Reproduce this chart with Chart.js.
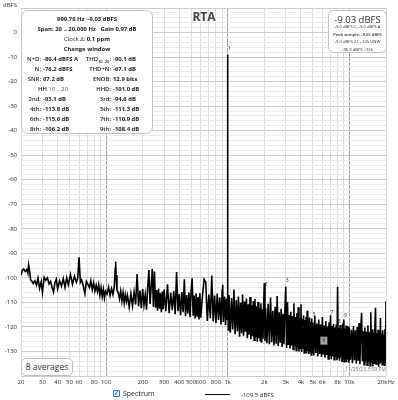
<!DOCTYPE html>
<html><head><meta charset="utf-8">
<script src="https://cdn.jsdelivr.net/npm/chart.js@4.4.1/dist/chart.umd.min.js"></script>
<style>
html,body{margin:0;padding:0;background:#fff;}
#wrap{position:relative;width:398px;height:400px;overflow:hidden;font-family:"Open Sans","Noto Sans",sans-serif;color:#222;}
#c{position:absolute;left:0;top:0;}
.abs{position:absolute;white-space:nowrap;}
#stats{left:21px;top:10px;width:132px;height:124px;border:1px solid #c4c4c4;border-radius:7px;background:#fff;box-sizing:border-box;}
.row{position:absolute;left:0;width:100%;height:10px;line-height:10px;font-size:5.9px;font-weight:700;white-space:nowrap;color:#1a1a1a;}
.c{text-align:center;}
.ll{position:absolute;left:0;width:19px;text-align:right;font-weight:600;}
.lv{position:absolute;left:21px;}
.rl{position:absolute;left:40px;width:49px;text-align:right;font-weight:600;}
.rv{position:absolute;left:91px;}
#peak{left:328px;top:10px;width:59px;height:43px;border:1px solid #c4c4c4;border-radius:6px;background:#fff;box-sizing:border-box;}
.pr{position:absolute;left:0;width:100%;text-align:center;white-space:nowrap;color:#333;}
#avg{left:21px;top:358px;width:52px;height:18px;border:1px solid #bdbdbd;border-radius:5px;background:#fff;box-sizing:border-box;font-size:8.5px;line-height:16px;text-align:center;color:#333;}
</style></head>
<body>
<div id="wrap">
<canvas id="c" width="398" height="400"></canvas>
<div class="abs" style="left:3px;top:1px;font-size:6px;line-height:8px;color:#333;">dBFS</div>
<div class="abs" style="left:174px;width:60px;top:9px;font-size:12px;line-height:16px;font-weight:700;color:#454545;text-align:center;">RTA</div>
<div id="stats" class="abs">
  <div class="row c" style="top:2.7px;">999.76 Hz&nbsp; -9.03 dBFS</div>
  <div class="row c" style="top:13px;">Span: 20 .. 20,000 Hz&nbsp;&nbsp; Gain 0.97 dB</div>
  <div class="row c" style="top:23px;"><span style="font-weight:400">Clock Δ:</span> 0.1 ppm</div>
  <div class="row c" style="top:33px;">Change window</div>
  <div class="row" style="top:43px;"><span class="ll">N+D:</span><span class="lv">-80.4 dBFS A</span><span class="rl">THD<sub style="font-size:4px;line-height:0">10..20</sub>:</span><span class="rv">-90.1 dB</span></div>
  <div class="row" style="top:53px;"><span class="ll">N:</span><span class="lv">-76.2 dBFS</span><span class="rl">THD+N:</span><span class="rv">-67.1 dB</span></div>
  <div class="row" style="top:63px;"><span class="ll">SNR:</span><span class="lv">67.2 dB</span><span class="rl">ENOB:</span><span class="rv">12.9 bits</span></div>
  <div class="row" style="top:73px;"><span style="position:absolute;left:0;width:62px;text-align:center;font-weight:600;">HH <span style="font-weight:400;color:#555">10 .. 20</span></span><span class="rl">HHD:</span><span class="rv">-101.0 dB</span></div>
  <div class="row" style="top:83px;"><span class="ll">2nd:</span><span class="lv">-93.1 dB</span><span class="rl">3rd:</span><span class="rv">-94.6 dB</span></div>
  <div class="row" style="top:93px;"><span class="ll">4th:</span><span class="lv">-113.8 dB</span><span class="rl">5th:</span><span class="rv">-111.3 dB</span></div>
  <div class="row" style="top:103px;"><span class="ll">6th:</span><span class="lv">-115.6 dB</span><span class="rl">7th:</span><span class="rv">-110.9 dB</span></div>
  <div class="row" style="top:113px;"><span class="ll">8th:</span><span class="lv">-106.2 dB</span><span class="rl">9th:</span><span class="rv">-108.4 dB</span></div>
</div>
<div id="peak" class="abs">
  <div class="pr" style="top:1.5px;font-size:9.5px;line-height:13px;">-9.03 dBFS</div>
  <div class="pr" style="top:13px;font-size:4.2px;line-height:6px;">-9.0 dBFS C, -9.0 dBFS A</div>
  <div class="pr" style="top:20.5px;font-size:4.2px;line-height:6px;font-weight:600;">Peak sample: -9.02 dBFS</div>
  <div class="pr" style="top:28px;font-size:4.2px;line-height:6px;">-9.0 dBFS 22 - 22k UNW</div>
  <div class="pr" style="top:35.5px;font-size:4.2px;line-height:6px;">-96.9 dBFS &gt;22k</div>
</div>
<div id="avg" class="abs">8 averages</div>
<div class="abs" style="right:12px;top:366px;font-size:5px;line-height:7px;color:#777;">11/25/23 3:09 PM</div>
<div class="abs" style="left:113px;top:390px;width:7px;height:7px;border:1px solid #2f72d8;border-radius:1px;box-sizing:border-box;background:#eaf2ff;font-size:6px;line-height:5px;color:#2f72d8;text-align:center;font-weight:700;">✓</div>
<div class="abs" style="left:123px;top:389px;font-size:7px;line-height:10px;color:#222;">Spectrum</div>
<div class="abs" style="left:205px;top:393.5px;width:25px;height:1.5px;background:#000;"></div>
<div class="abs" style="left:241px;top:390px;font-size:6px;line-height:10px;color:#222;">-109.5 dBFS</div>
</div>
<script>
// ---- Spectrum data (frequency in Hz, level in dBFS) ----
const freqA = [20,20.5,21,21.7,22.3,22.8,23.1,23.6,24,24.6,25.2,26,26.8,27.6,28.4,29.3,30,31,32,33,34,35,36,37,38,39,40,41.5,43,44.5,46,47.5,49,51,53,55,57,58.5,60,61.5,63,65,67,69,71,73,75,77,79,81,83,85,87,89,91,93,95,97,99,102,105,108,111,114,117,119,120,121,123,126,129,132,135,138,141,144,147,150];
const levelA = [-98.8,-97.0,-96.4,-97.4,-96.6,-98.2,-94.7,-97.5,-100.8,-101.4,
 -102.3,-101.2,-103.0,-100.1,-104.3,-101.6,-106.0,-99.8,-101.0,-100.0,
 -102.5,-101.4,-103.8,-105.8,-102.0,-100.6,-104.5,-101.2,-103.4,-100.3,
 -103.8,-100.0,-102.8,-98.6,-102.6,-99.3,-101.8,-100.2,-91.6,-101.8,
 -100.8,-103.2,-106.4,-101.4,-102.6,-104.0,-101.2,-104.8,-102.0,-105.4,
 -103.0,-105.6,-102.8,-107.0,-104.0,-107.6,-104.6,-108.2,-105.4,-106.6,
 -103.8,-107.2,-104.4,-106.8,-103.6,-96.0,-93.4,-98.8,-105.0,-106.2,
 -108.6,-105.4,-109.4,-106.0,-110.2,-106.8,-109.6,-107.2];

const freqB = [155,160,165,170,175,180,185,190,195,200,205,210,215,220,225,230,235,240,245,250,
 255,260,265,270,275,280,285,290,295,300,310,320,330,340,350,360,370,380,390,400,
 410,420,430,440,450,460,470,480,490,500,510,520,530,540,550,560,570,580,590,600,
 620,640,660,680,700,720,740,760,780,800,820,840,860,880,900,910,920,940,960,975,
 990,995,1000,1005,1015,1025];
const levelB = [-112.0,-106.4,-111.4,-105.8,-110.8,-98.4,-111.6,-105.2,-112.4,-104.6,
 -111.0,-106.8,-113.0,-104.0,-96.8,-110.6,-103.6,-96.4,-111.8,-97.4,
 -112.2,-105.0,-113.4,-104.4,-112.6,-106.2,-114.0,-105.6,-112.8,-104.8,
 -113.6,-102.6,-114.4,-106.0,-113.2,-105.4,-114.8,-97.6,-113.6,-106.6,
 -115.2,-105.8,-114.0,-100.6,-115.6,-107.0,-114.6,-106.0,-116.0,-105.4,
 -100.2,-115.4,-107.2,-116.6,-106.4,-115.8,-107.8,-117.0,-106.2,-116.2,
 -107.4,-100.6,-101.8,-117.6,-106.8,-116.4,-99.0,-117.8,-107.2,-118.4,
 -106.4,-117.2,-108.0,-119.0,-104.8,-102.8,-118.0,-107.6,-119.2,-108.4,
 -116.8,-108.0,-9.03,-106.0,-121.6,-107.0];

const freqC = [1050,1075,1100,1125,1150,1175,1200,1225,1250,1275,1300,1325,1350,1375,1400,1425,1450,1475,1500,1525,
 1550,1575,1600,1625,1650,1675,1700,1725,1750,1775,1800,1825,1850,1875,1900,1925,1950,1975,2000,2025,
 2050,2100,2150,2200,2250,2300,2350,2400,2450,2500,2550,2600,2650,2700,2750,2800,2850,2900,2950,3000,
 3050,3100,3150,3200,3250,3300,3350,3400,3450,3500,3550,3600,3650,3700,3750,3800,3850,3900,3950,4000,
 4050,4100,4150,4200,4250,4300,4350,4400,4450,4500,4550,4600,4650,4700,4750,4800,4850,4900,4950,5000];
const levelC = [-122.4,-108.2,-121.0,-104.8,-123.0,-109.0,-121.8,-107.6,-124.0,-110.2,
 -122.6,-106.8,-123.6,-109.6,-122.0,-108.4,-124.6,-110.8,-123.2,-107.8,
 -125.0,-111.2,-123.8,-109.4,-125.4,-108.6,-124.2,-111.6,-126.0,-109.8,
 -124.6,-112.2,-125.6,-110.4,-126.4,-112.8,-124.8,-111.0,-102.1,-125.8,
 -112.4,-126.6,-110.6,-127.0,-108.0,-126.2,-113.4,-127.6,-111.8,-126.8,
 -107.4,-127.8,-114.0,-126.4,-112.6,-128.2,-114.6,-127.0,-113.2,-103.6,
 -128.6,-109.8,-127.4,-115.0,-128.8,-113.8,-127.6,-115.6,-129.2,-110.4,
 -128.0,-116.0,-129.6,-114.4,-128.4,-112.0,-130.0,-116.4,-128.8,-110.8,
 -130.2,-116.8,-129.0,-115.2,-130.6,-117.2,-129.4,-115.8,-130.8,-113.4,
 -129.8,-117.6,-131.0,-116.2,-130.0,-118.0,-131.4,-116.6,-130.4,-118.2];

const freqD = [5100,5200,5300,5400,5500,5600,5700,5800,5900,6000,6100,6200,6300,6400,6500,6600,6700,6800,6900,7000,
 7100,7200,7300,7400,7500,7600,7700,7800,7900,8000,8100,8200,8300,8400,8500,8600,8700,8800,8900,9000,
 9100,9200,9300,9400,9500,9600,9700,9800,9900,10000,
 10200,10400,10600,10800,11000,11200,11400,11600,11800,12000,12200,12400,12600,12800,13000,13200,13400,13600,13800,14000,
 14200,14400,14600,14800,15000,15200,15400,15600,15800,16000,16200,16400,16600,16800,17000,17200,17400,17600,17800,18000,
 18200,18400,18600,18800,19000,19200,19400,19600,19800,20000];
const levelD = [-131.6,-115.4,-130.6,-118.6,-132.0,-117.0,-131.0,-119.0,-132.2,-116.0,
 -131.2,-119.4,-132.6,-117.6,-131.4,-119.8,-133.0,-118.2,-131.8,-115.2,
 -133.2,-119.6,-132.0,-118.8,-133.4,-120.2,-132.2,-119.0,-133.6,-103.6,
 -132.4,-120.4,-133.8,-119.2,-132.6,-120.8,-134.0,-118.6,-132.8,-117.0,
 -134.2,-120.6,-133.0,-119.4,-134.4,-121.0,-133.2,-119.8,-134.6,-120.4,
 -133.4,-121.2,-134.8,-119.6,-133.6,-121.4,-135.0,-120.0,-133.8,-118.4,
 -135.2,-121.6,-114.2,-134.0,-121.8,-135.4,-120.2,-134.2,-122.0,-135.6,
 -119.4,-134.4,-122.2,-135.8,-114.0,-134.6,-121.0,-136.0,-122.4,-134.8,
 -120.6,-112.2,-135.2,-122.6,-134.0,-121.2,-136.2,-122.8,-135.0,-116.4,
 -134.2,-122.4,-135.4,-121.4,-134.4,-123.0,-135.6,-120.8,-134.6,-109.6];

// ---- harmonic markers ----
const harmonicLabels = ['1','2','3','4','5','6','7','8','9'];
const harmonicFreqHz = [1000,2000,3000,4000,5000,6000,7000,8000,9000];
const harmonicMarkDb = [-6.5,-102.8,-101.2,-120.3,-115.0,-125.6,-114.2,-117.9,-115.4];

// ---- axis ticks ----
const xTickValues = [20,30,40,50,60,70,80,90,100,200,300,400,500,600,700,800,900,1000,2000,3000,4000,5000,6000,7000,8000,9000,10000,20000];
const xTickLabels = ['20','30','40','50','60','','80','','100','200','300','400','500','600','','800','','1k','2k','3k','4k','5k','6k','','8k','','10k','20kHz'];
const xMajorLines = [100,1000,10000];
const yMin = -140, yMax = 10, yStep = 2, yLabelStep = 10;

const freqHz = freqA.concat(freqB, freqC, freqD);
const levelDb = levelA.concat(levelB, levelC, levelD);
const points = freqHz.map((f, i) => ({x: f, y: levelDb[i]}));

const markerPlugin = {
  id: 'harmonicMarkers',
  afterDatasetsDraw(chart) {
    const {ctx, scales: {x, y}} = chart;
    ctx.save();
    ctx.font = '5px "Open Sans"';
    ctx.textAlign = 'center';
    ctx.textBaseline = 'middle';
    harmonicFreqHz.forEach((f, i) => {
      const px = x.getPixelForValue(f) + 1.5;
      const py = y.getPixelForValue(harmonicMarkDb[i]);
      if (harmonicLabels[i] === '6') {
        ctx.fillStyle = '#a3a3a3';
        ctx.fillRect(px - 3.5, py - 4, 7, 8);
      }
      ctx.fillStyle = '#222';
      ctx.fillText(harmonicLabels[i], px, py);
    });
    ctx.restore();
  }
};

new Chart(document.getElementById('c'), {
  type: 'line',
  data: {datasets: [{label: 'Spectrum', data: points, borderColor: '#000', borderWidth: 1.6,
    pointRadius: 0, tension: 0, fill: false, borderJoinStyle: 'miter'}]},
  options: {
    responsive: false, animation: false, devicePixelRatio: 1, parsing: false, normalized: true,
    layout: {padding: {top: 8, right: 12, bottom: 0, left: 0}},
    plugins: {legend: {display: false}, tooltip: {enabled: false}, title: {display: false}},
    scales: {
      x: {
        type: 'logarithmic', min: 20, max: 20000,
        afterBuildTicks: s => { s.ticks = xTickValues.map(v => ({value: v})); },
        afterFit: s => { s.height = 24; },
        ticks: {autoSkip: false, maxRotation: 0, minRotation: 0, padding: 3,
          font: {size: 6, family: 'Open Sans'}, color: '#2a2a2a',
          callback: (v, i) => xTickLabels[i]},
        grid: {drawTicks: false, lineWidth: 1,
          color: c => xMajorLines.includes(c.tick && c.tick.value) ? '#a2a2a2' : '#dcdcdc'},
        border: {display: false}
      },
      y: {
        min: yMin, max: yMax,
        afterFit: s => { s.width = 21; },
        ticks: {stepSize: yStep, autoSkip: false, padding: 4,
          font: {size: 6, family: 'Open Sans'}, color: '#2a2a2a',
          callback: v => (v % yLabelStep === 0 && v > yMin && v < yMax) ? String(v) : ''},
        grid: {drawTicks: false, lineWidth: 1,
          color: c => (c.tick && c.tick.value % yLabelStep === 0) ? '#cdcdcd' : '#ebebeb'},
        border: {display: false}
      }
    }
  },
  plugins: [markerPlugin]
});
</script>
</body></html>
